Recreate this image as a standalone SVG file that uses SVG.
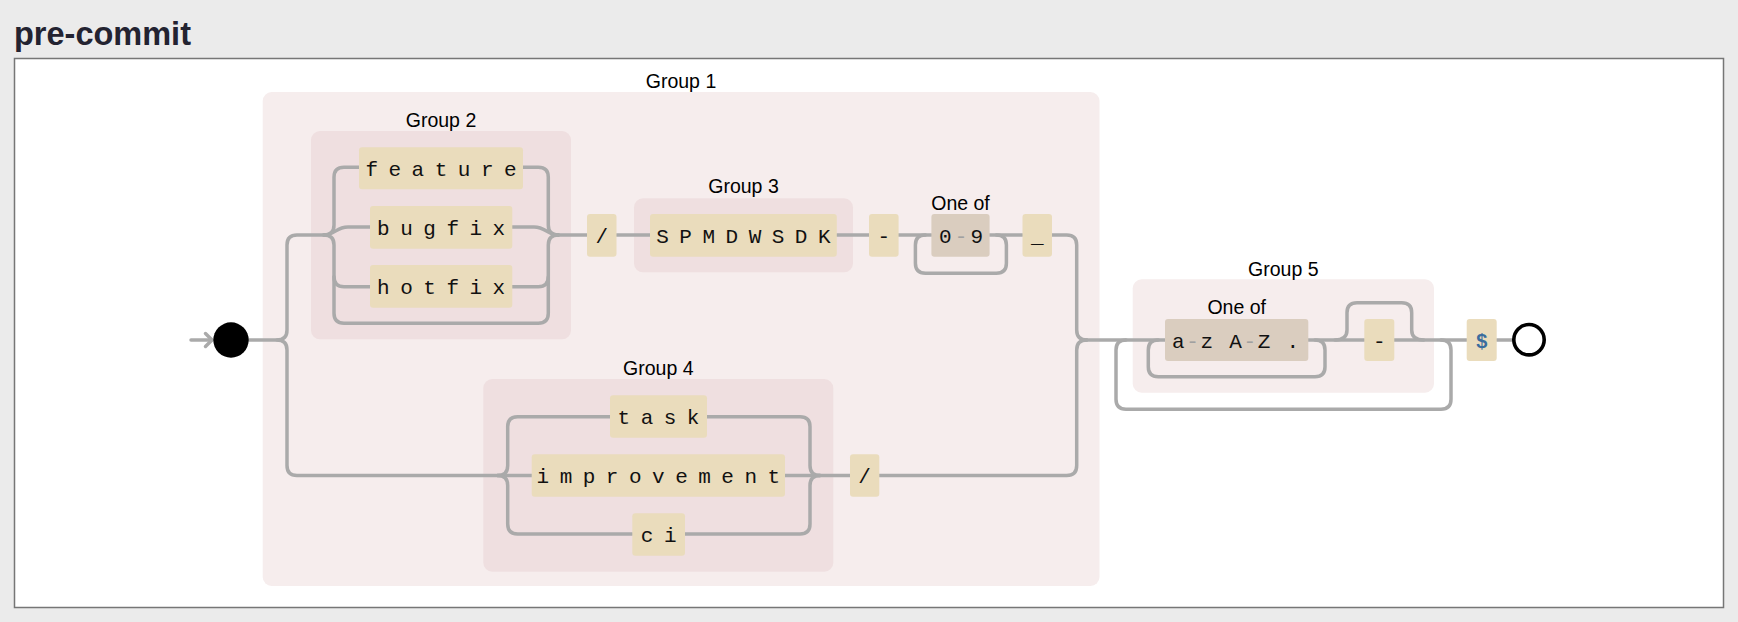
<svg xmlns="http://www.w3.org/2000/svg" width="1738" height="622" viewBox="0 0 1738 622">
<defs>
<style>
.bg{fill:#ebebeb}
.panel{fill:#ffffff;stroke:#767676;stroke-width:1.5}
.title{font-family:"Liberation Sans",Arial,sans-serif;font-weight:bold;font-size:32.5px;fill:#232331}
.g1{fill:#f6eded}
.g2{fill:#efdfe0}
.lbl{font-family:"Liberation Sans",Arial,sans-serif;font-size:19.5px;fill:#000;text-anchor:middle}
.lit{fill:#eadcbc}
.cs{fill:#dacdbf}
.mono{font-family:"Liberation Mono","Courier New",monospace;font-size:21px;fill:#111;text-anchor:middle;letter-spacing:10.5px}
.csx{font-family:"Liberation Mono","Courier New",monospace;font-size:21px;fill:#111}
.dash{fill:#a0a0a0}
.conn path,.conn line,.conn polyline{fill:none;stroke:#aaaaaa;stroke-width:3.5;stroke-linecap:round;stroke-linejoin:round}
</style>
</defs>
<rect class="bg" x="0" y="0" width="1738" height="622"/>
<text class="title" x="14" y="45">pre-commit</text>
<rect class="panel" x="14.5" y="58.5" width="1709" height="549"/>

<g id="group1">
<rect class="g1" x="262.7" y="92" width="836.8" height="494" rx="9"/>
<text class="lbl" x="681" y="88">Group 1</text>
</g>
<g id="group2">
<rect class="g2" x="311" y="131" width="260" height="208.3" rx="9"/>
<text class="lbl" x="441" y="126.7">Group 2</text>
</g>
<g id="group3">
<rect class="g2" x="634" y="198.3" width="219" height="74" rx="9"/>
<text class="lbl" x="743.5" y="193.3">Group 3</text>
</g>
<g id="group4">
<rect class="g2" x="483.3" y="379" width="350" height="192.7" rx="9"/>
<text class="lbl" x="658.3" y="375">Group 4</text>
</g>
<g id="group5">
<rect class="g1" x="1132.7" y="279.3" width="301.3" height="113.4" rx="9"/>
<text class="lbl" x="1283.3" y="276">Group 5</text>
</g>

<g class="conn" id="connectors">
<line x1="191" y1="340" x2="212" y2="340"/>
<polyline points="205.5,333.5 212,340 205.5,346.5"/>
<path d="M249,340 H277 Q287,340 287,330 V245 Q287,235 297,235 H324"/>
<path d="M277,340 Q287,340 287,350 V465.5 Q287,475.5 297,475.5 H497.7"/>
<path d="M324,235 Q334,235 334,225 V177.3 Q334,167.3 344,167.3 H359"/>
<path d="M324,235 C335,235 336,227 348,227 H370"/>
<path d="M324,235 Q334,235 334,245 V276.7 Q334,286.7 344,286.7 H370"/>
<path d="M334,276.7 V313.3 Q334,323.3 344,323.3 H538.3 Q548.3,323.3 548.3,313.3 V276.7"/>
<path d="M523,167.3 H538.3 Q548.3,167.3 548.3,177.3 V225 Q548.3,235 558.3,235"/>
<path d="M512.3,227 H534 C546,227 547,235 558.3,235"/>
<path d="M512.3,286.7 H538.3 Q548.3,286.7 548.3,276.7 V245 Q548.3,235 558.3,235"/>
<path d="M558.3,235 H587"/>
<path d="M616.5,235 H650"/>
<path d="M836.8,235 H869"/>
<path d="M898.6,235 H931.4"/>
<path d="M989.6,235 H1022.5"/>
<path d="M996.4,235 Q1006.4,235 1006.4,245 V263.3 Q1006.4,273.3 996.4,273.3 H925.4 Q915.4,273.3 915.4,263.3 V245 Q915.4,235 925.4,235"/>
<path d="M1052,235 H1066.7 Q1076.7,235 1076.7,245 V330 Q1076.7,340 1086.7,340"/>
<path d="M497.7,475.5 Q507.7,475.5 507.7,465.5 V426.7 Q507.7,416.7 517.7,416.7 H610"/>
<path d="M497.7,475.5 H531.7"/>
<path d="M497.7,475.5 Q507.7,475.5 507.7,485.5 V524 Q507.7,534 517.7,534 H632.3"/>
<path d="M707,416.7 H800 Q810,416.7 810,426.7 V465.5 Q810,475.5 820,475.5"/>
<path d="M785,475.5 H820"/>
<path d="M685,534 H800 Q810,534 810,524 V485.5 Q810,475.5 820,475.5"/>
<path d="M820,475.5 H850"/>
<path d="M879.3,475.5 H1066.7 Q1076.7,475.5 1076.7,465.5 V350 Q1076.7,340 1086.7,340"/>
<path d="M1086.7,340 H1165"/>
<path d="M1126,340 Q1116,340 1116,350 V399.3 Q1116,409.3 1126,409.3 H1441 Q1451,409.3 1451,399.3 V350 Q1451,340 1441,340"/>
<path d="M1158.3,340 Q1148.3,340 1148.3,350 V366.7 Q1148.3,376.7 1158.3,376.7 H1315 Q1325,376.7 1325,366.7 V350 Q1325,340 1315,340"/>
<path d="M1308.3,340 H1364.3"/>
<path d="M1335,340 Q1347,340 1347,330 V312.7 Q1347,302.7 1357,302.7 H1401.7 Q1411.7,302.7 1411.7,312.7 V330 Q1411.7,340 1423.7,340"/>
<path d="M1394.3,340 H1466.7"/>
<path d="M1496.7,340 H1513"/>
</g>

<g id="start"><circle cx="231" cy="340" r="17.7" fill="#000"/></g>
<g id="end"><circle cx="1529" cy="339.7" r="15.2" fill="#fff" stroke="#000" stroke-width="3.6"/></g>

<g id="n-feature"><rect class="lit" x="359" y="147.3" width="164" height="42" rx="3"/><text class="mono" x="446.25" y="176">feature</text></g>
<g id="n-bugfix"><rect class="lit" x="370" y="206" width="142.3" height="42.7" rx="3"/><text class="mono" x="446.4" y="235">bugfix</text></g>
<g id="n-hotfix"><rect class="lit" x="370" y="265" width="142.3" height="42.7" rx="3"/><text class="mono" x="446.4" y="294">hotfix</text></g>
<g id="n-slash1"><rect class="lit" x="587" y="214" width="29.5" height="42.7" rx="3"/><text class="mono" x="607" y="243">/</text></g>
<g id="n-spmdwsdk"><rect class="lit" x="650" y="214" width="186.8" height="42.7" rx="3"/><text class="mono" x="748.65" y="243">SPMDWSDK</text></g>
<g id="n-dash1"><rect class="lit" x="869" y="214" width="29.6" height="42.7" rx="3"/><text class="mono" x="889.05" y="243">-</text></g>
<g id="n-digits"><rect class="cs" x="931.4" y="214" width="58.2" height="42.7" rx="3"/><text class="lbl" x="960.5" y="210">One of</text><text class="csx" x="939" y="243">0</text><text class="csx dash" x="954.7" y="243">-</text><text class="csx" x="970.4" y="243">9</text></g>
<g id="n-under"><rect class="lit" x="1022.5" y="214" width="29.5" height="42.7" rx="3"/><text class="mono" x="1042.5" y="243">_</text></g>
<g id="n-task"><rect class="lit" x="610" y="395.3" width="97" height="42.4" rx="3"/><text class="mono" x="663.75" y="424">task</text></g>
<g id="n-improvement"><rect class="lit" x="531.7" y="454.3" width="253.3" height="42.4" rx="3"/><text class="mono" x="663.6" y="483">improvement</text></g>
<g id="n-ci"><rect class="lit" x="632.3" y="513.3" width="52.7" height="42.4" rx="3"/><text class="mono" x="663.9" y="542">ci</text></g>
<g id="n-slash2"><rect class="lit" x="850" y="454.3" width="29.3" height="42.4" rx="3"/><text class="mono" x="869.9" y="483">/</text></g>
<g id="n-alpha"><rect class="cs" x="1165" y="319" width="143.3" height="42" rx="3"/><text class="lbl" x="1236.7" y="314.3">One of</text><text class="csx" x="1172" y="347.5"><tspan>a</tspan><tspan class="dash" x="1186.3">-</tspan><tspan x="1200.6">z</tspan><tspan x="1229.2">A</tspan><tspan class="dash" x="1243.5">-</tspan><tspan x="1257.8">Z</tspan><tspan x="1286.4">.</tspan></text></g>
<g id="n-dash2"><rect class="lit" x="1364.3" y="319" width="30" height="42" rx="3"/><text class="mono" x="1384.55" y="347.5">-</text></g>
<g id="n-dollar"><rect class="lit" x="1466.7" y="319" width="30" height="42" rx="3"/><text x="1481.7" y="347.5" font-family="Liberation Sans, Arial, sans-serif" font-weight="bold" font-size="20" fill="#3a6d9e" text-anchor="middle">$</text></g>
</svg>
